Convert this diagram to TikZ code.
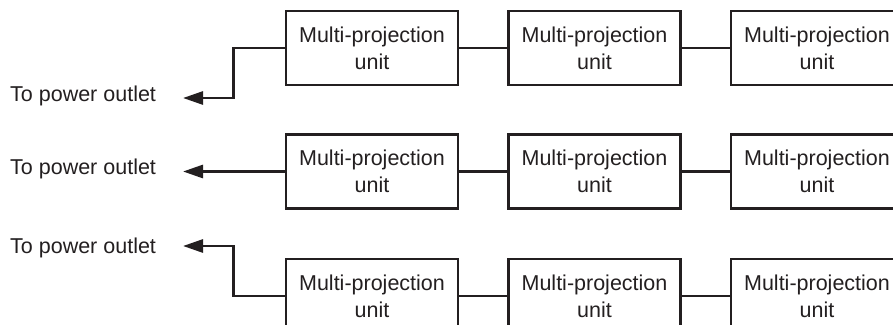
\documentclass[tikz,border=0pt]{standalone}
\usepackage{fontspec}
\setmainfont{Liberation Sans}
\usetikzlibrary{arrows.meta}
\definecolor{ink}{HTML}{231F20}
\begin{document}
\begin{tikzpicture}[x=1pt,y={(0pt,-1pt)},
  unitbox/.style={draw=ink,line width=2.8pt,minimum width=172pt,minimum height=74pt,
    align=center,inner sep=0pt,text=ink,font=\fontsize{21.5}{27}\selectfont},
  lbl/.style={anchor=base west,inner sep=0pt,text=ink,font=\fontsize{21.5}{27}\selectfont},
  wire/.style={draw=ink,line width=2.8pt},
  feed/.style={wire,-{Triangle[length=20pt,width=13pt]}}]
\useasboundingbox (0,0) rectangle (893,324);
\clip (0,0) rectangle (893,324);
% row 1
\node[unitbox] (a1) at (372,48) {Multi-projection\\unit};
\node[unitbox] (a2) at (594.5,48) {Multi-projection\\unit};
\node[unitbox] (a3) at (817,48) {Multi-projection\\unit};
\node[lbl] (t1) at (10,101) {To power outlet};
\coordinate (p1) at (183,98);
\draw[wire] (a1) -- (a2);
\draw[wire] (a2) -- (a3);
\draw[feed] (a1.west) -- ++(-51,0) |- (p1);
% row 2
\node[unitbox] (b1) at (372,171.5) {Multi-projection\\unit};
\node[unitbox] (b2) at (594.5,171.5) {Multi-projection\\unit};
\node[unitbox] (b3) at (817,171.5) {Multi-projection\\unit};
\node[lbl] (t2) at (10,174) {To power outlet};
\coordinate (p2) at (183,171.5);
\draw[wire] (b1) -- (b2);
\draw[wire] (b2) -- (b3);
\draw[feed] (b1.west) -- (p2);
% row 3
\node[unitbox] (c1) at (372,296) {Multi-projection\\unit};
\node[unitbox] (c2) at (594.5,296) {Multi-projection\\unit};
\node[unitbox] (c3) at (817,296) {Multi-projection\\unit};
\node[lbl] (t3) at (10,253) {To power outlet};
\coordinate (p3) at (183,246);
\draw[wire] (c1) -- (c2);
\draw[wire] (c2) -- (c3);
\draw[feed] (c1.west) -- ++(-51,0) |- (p3);
\end{tikzpicture}
\end{document}
